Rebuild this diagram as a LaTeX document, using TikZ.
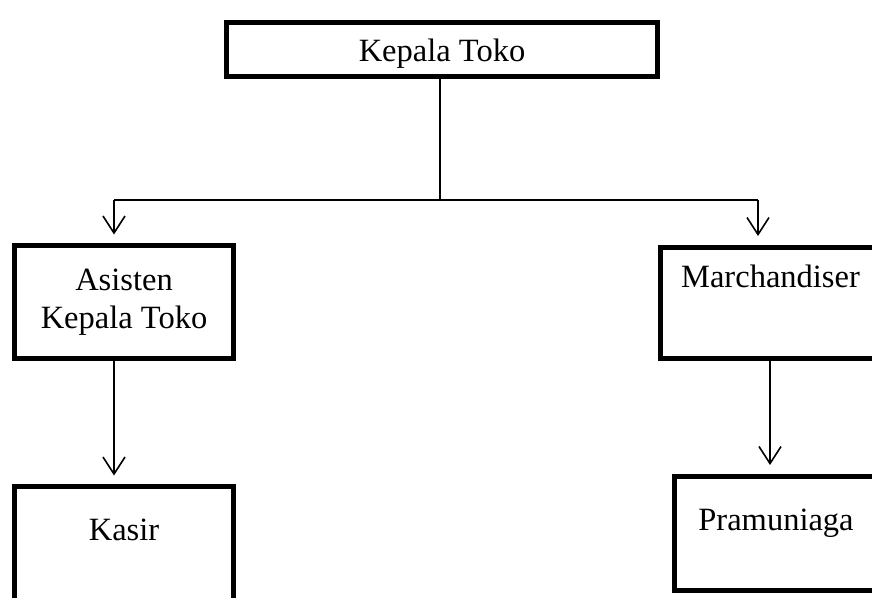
\documentclass[tikz,border=0pt]{standalone}
\usepackage{fontspec}
\setmainfont{Liberation Serif}
\usetikzlibrary{arrows.meta}
\begin{document}
\begin{tikzpicture}[x=1pt,y=-1pt,
  orgbox/.style={draw, line width=5pt, inner sep=0pt, outer sep=0pt, align=center,
    font=\fontsize{32.5}{38}\selectfont},
  link/.style={line width=1.6pt},
  downarrow/.style={link, -{Straight Barb[length=17pt,width=22pt,line width=1.6pt]}, shorten >=11pt}]
\clip (0,0) rectangle (872,597);
\fill[white] (0,0) rectangle (872,597);
% boxes
\node[orgbox, anchor=north west, minimum width=431pt, text height=38.5pt, text depth=15pt] (kt) at (226.5,22.5) {Kepala Toko};
\node[orgbox, minimum width=219pt, minimum height=113pt] (akt) at (124,302) {Asisten\\Kepala Toko};
\node[orgbox, anchor=north west, minimum width=221pt, text height=40pt, text depth=71pt] (mc) at (660,247) {Marchandiser};
\node[orgbox, anchor=north west, minimum width=219pt, text height=54pt, text depth=100pt] (ks) at (14.5,486.5) {Kasir};
\node[orgbox, anchor=north west, minimum width=203pt, text height=54pt, text depth=60pt] (pr) at (674.5,476) {Pramuniaga};
% junction
\coordinate (j) at (440,200);
\coordinate (jl) at (114,200);
\coordinate (jr) at (758,200);
\coordinate (rl) at (770,400);
\draw[link] (kt.south -| j) -- (j);
\draw[link] (jl) -- (jr);
\draw[downarrow] (jl) -- (jl |- akt.north);
\draw[downarrow] (jr) -- (jr |- mc.north);
\draw[downarrow] (akt.south -| jl) -- (ks.north -| jl);
\draw[downarrow] (mc.south -| rl) -- (pr.north -| rl);
\end{tikzpicture}
\end{document}
